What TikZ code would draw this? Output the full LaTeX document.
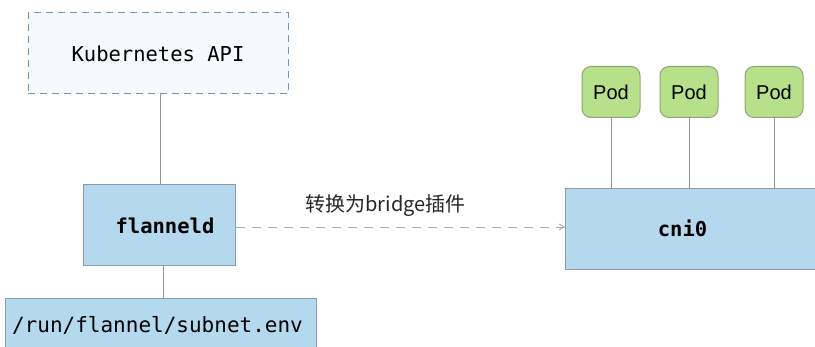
\documentclass[tikz,border=0pt]{standalone}
\usepackage{fontspec}
\setmonofont{DejaVu Sans Mono}
\setsansfont{Liberation Sans}
\newfontfamily\cjk{Noto Sans CJK SC}
\usetikzlibrary{arrows.meta}
\definecolor{boxblue}{RGB}{180,217,238}
\definecolor{boxedge}{RGB}{140,155,165}
\definecolor{apifill}{RGB}{244,249,253}
\definecolor{apiedge}{RGB}{110,150,196}
\definecolor{podgreen}{RGB}{182,224,137}
\definecolor{podedge}{RGB}{140,168,112}
\definecolor{linegray}{RGB}{150,150,150}
\begin{document}
\begin{tikzpicture}[x=1pt,y=-1pt,
  bluebox/.style={draw=boxedge,fill=boxblue,line width=1pt,inner sep=0pt,
    font=\ttfamily\fontsize{20.5}{23}\selectfont},
  podbox/.style={draw=podedge,fill=podgreen,line width=1pt,rounded corners=9pt,
    minimum width=58pt,minimum height=51pt,inner sep=0pt,
    font=\sffamily\fontsize{20}{23}\selectfont},
  conn/.style={draw=linegray,line width=0.9pt}]
\useasboundingbox (0,0) rectangle (815,347);
\node[draw=apiedge,fill=apifill,dashed,dash pattern=on 7pt off 5pt,line width=1pt,
  minimum width=260pt,minimum height=81pt,inner sep=0pt,
  font=\ttfamily\fontsize{20.5}{23}\selectfont] (api) at (158,53.5) {Kubernetes API};
\node[bluebox,minimum width=152pt,minimum height=81pt] (fl) at (159,225.5) {\hspace*{12pt}\bfseries flanneld};
\node[bluebox,minimum width=311pt,minimum height=60pt,anchor=north west] (sub) at (5,298) {};
\node[font=\ttfamily\fontsize{21}{23}\selectfont] (subt) at (157.5,325) {/run/flannel/subnet.env};
\node[bluebox,minimum width=270pt,minimum height=81pt,anchor=north west] (cni) at (565,188) {};
\node[font=\ttfamily\bfseries\fontsize{20.5}{23}\selectfont] (cnit) at (682.5,228) {cni0};
\node[podbox] (p1) at (611,92) {Pod};
\node[podbox] (p2) at (689,92) {Pod};
\node[podbox] (p3) at (774,92) {Pod};
\draw[conn] (api.south -| 160,0) -- (fl.north -| 160,0);
\draw[conn] (fl.south -| 163,0) -- (sub.north -| 163,0);
\draw[conn] (p1.south) -- (p1.south |- cni.north);
\draw[conn] (p2.south) -- (p2.south |- cni.north);
\draw[conn] (p3.south) -- (p3.south |- cni.north);
\draw[draw=linegray!80,line width=0.9pt,dash pattern=on 9pt off 7pt,
  -{Straight Barb[length=5pt,width=6pt]}] (fl.east |- 0,227) -- (cni.west |- 0,227)
  node[pos=0.455,above=7pt,text=black!85,font=\cjk\fontsize{20}{22}\selectfont] (lbl) {转换为bridge插件};
\end{tikzpicture}
\end{document}
